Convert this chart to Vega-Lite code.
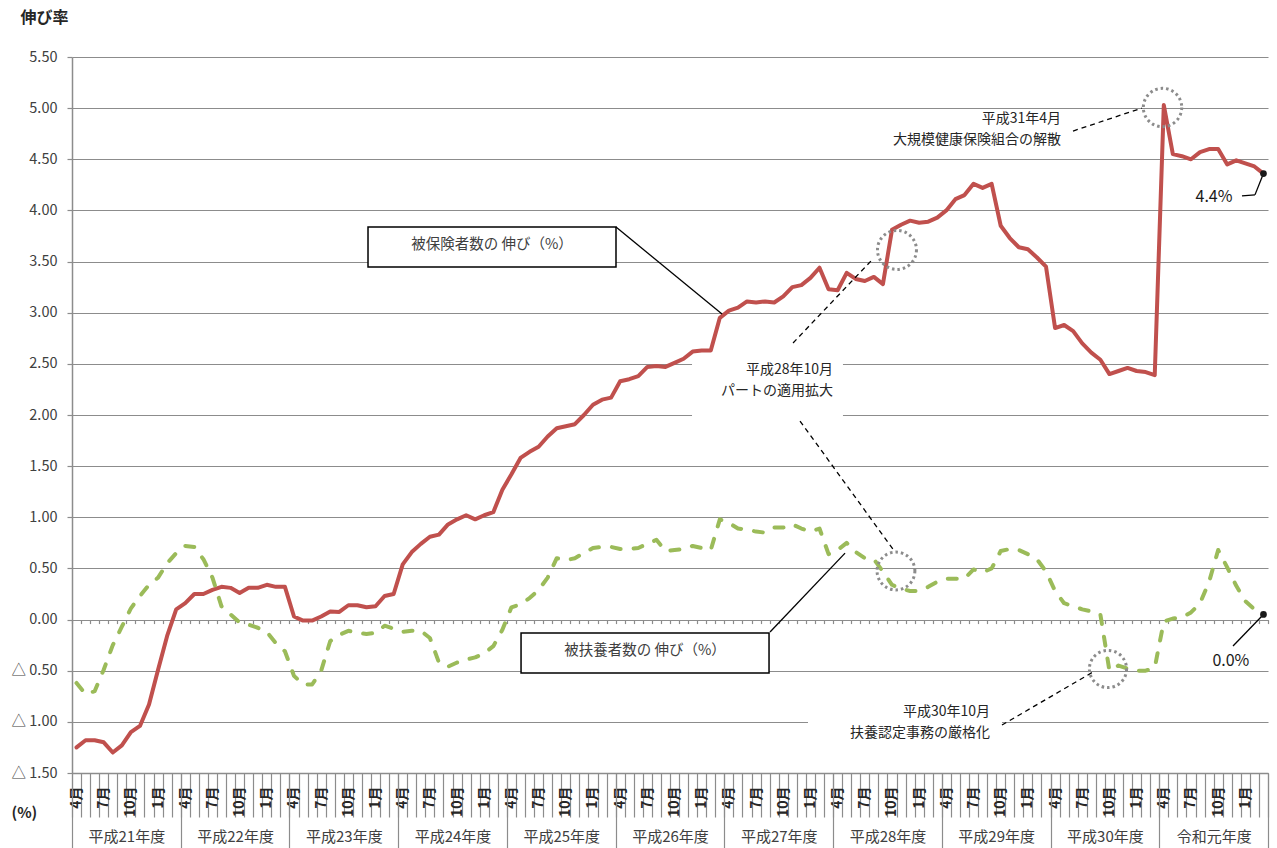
{
 "$schema": "https://vega.github.io/schema/vega-lite/v6.json",
 "width": 1196,
 "height": 716,
 "autosize": {"type": "none"},
 "padding": {"left": 72, "top": 57, "right": 9, "bottom": 75},
 "background": "white",
 "config": {
  "view": {"stroke": null},
  "font": "Noto Sans CJK JP",
  "axis": {"domainColor": "#8c8c8c", "tickColor": "#8c8c8c", "gridColor": "#8c8c8c"}
 },
 "datasets": {
  "series": [
   {"m":0,"hihokensha":-1.25,"hifuyosha":-0.62},{"m":1,"hihokensha":-1.18,"hifuyosha":-0.73},{"m":2,"hihokensha":-1.18,"hifuyosha":-0.70},{"m":3,"hihokensha":-1.20,"hifuyosha":-0.49},{"m":4,"hihokensha":-1.30,"hifuyosha":-0.25},{"m":5,"hihokensha":-1.23,"hifuyosha":-0.07},{"m":6,"hihokensha":-1.10,"hifuyosha":0.11},{"m":7,"hihokensha":-1.04,"hifuyosha":0.23},{"m":8,"hihokensha":-0.83,"hifuyosha":0.34},{"m":9,"hihokensha":-0.49,"hifuyosha":0.41},{"m":10,"hihokensha":-0.16,"hifuyosha":0.55},{"m":11,"hihokensha":0.10,"hifuyosha":0.65},
   {"m":12,"hihokensha":0.16,"hifuyosha":0.72},{"m":13,"hihokensha":0.25,"hifuyosha":0.71},{"m":14,"hihokensha":0.25,"hifuyosha":0.59},{"m":15,"hihokensha":0.29,"hifuyosha":0.41},{"m":16,"hihokensha":0.32,"hifuyosha":0.13},{"m":17,"hihokensha":0.31,"hifuyosha":0.05},{"m":18,"hihokensha":0.26,"hifuyosha":-0.03},{"m":19,"hihokensha":0.31,"hifuyosha":-0.05},{"m":20,"hihokensha":0.31,"hifuyosha":-0.08},{"m":21,"hihokensha":0.34,"hifuyosha":-0.12},{"m":22,"hihokensha":0.32,"hifuyosha":-0.23},{"m":23,"hihokensha":0.32,"hifuyosha":-0.31},
   {"m":24,"hihokensha":0.03,"hifuyosha":-0.55},{"m":25,"hihokensha":-0.01,"hifuyosha":-0.635},{"m":26,"hihokensha":-0.01,"hifuyosha":-0.635},{"m":27,"hihokensha":0.03,"hifuyosha":-0.50},{"m":28,"hihokensha":0.08,"hifuyosha":-0.21},{"m":29,"hihokensha":0.075,"hifuyosha":-0.15},{"m":30,"hihokensha":0.14,"hifuyosha":-0.11},{"m":31,"hihokensha":0.14,"hifuyosha":-0.13},{"m":32,"hihokensha":0.12,"hifuyosha":-0.14},{"m":33,"hihokensha":0.13,"hifuyosha":-0.13},{"m":34,"hihokensha":0.23,"hifuyosha":-0.06},{"m":35,"hihokensha":0.25,"hifuyosha":-0.09},
   {"m":36,"hihokensha":0.54,"hifuyosha":-0.12},{"m":37,"hihokensha":0.66,"hifuyosha":-0.11},{"m":38,"hihokensha":0.74,"hifuyosha":-0.11},{"m":39,"hihokensha":0.81,"hifuyosha":-0.18},{"m":40,"hihokensha":0.83,"hifuyosha":-0.42},{"m":41,"hihokensha":0.93,"hifuyosha":-0.46},{"m":42,"hihokensha":0.98,"hifuyosha":-0.42},{"m":43,"hihokensha":1.02,"hifuyosha":-0.39},{"m":44,"hihokensha":0.98,"hifuyosha":-0.37},{"m":45,"hihokensha":1.02,"hifuyosha":-0.33},{"m":46,"hihokensha":1.05,"hifuyosha":-0.26},{"m":47,"hihokensha":1.27,"hifuyosha":-0.10},
   {"m":48,"hihokensha":1.42,"hifuyosha":0.12},{"m":49,"hihokensha":1.58,"hifuyosha":0.15},{"m":50,"hihokensha":1.64,"hifuyosha":0.21},{"m":51,"hihokensha":1.69,"hifuyosha":0.29},{"m":52,"hihokensha":1.79,"hifuyosha":0.41},{"m":53,"hihokensha":1.87,"hifuyosha":0.60},{"m":54,"hihokensha":1.89,"hifuyosha":0.58},{"m":55,"hihokensha":1.91,"hifuyosha":0.60},{"m":56,"hihokensha":2.00,"hifuyosha":0.65},{"m":57,"hihokensha":2.10,"hifuyosha":0.70},{"m":58,"hihokensha":2.15,"hifuyosha":0.71},{"m":59,"hihokensha":2.17,"hifuyosha":0.71},
   {"m":60,"hihokensha":2.33,"hifuyosha":0.69},{"m":61,"hihokensha":2.35,"hifuyosha":0.69},{"m":62,"hihokensha":2.38,"hifuyosha":0.70},{"m":63,"hihokensha":2.47,"hifuyosha":0.74},{"m":64,"hihokensha":2.48,"hifuyosha":0.78},{"m":65,"hihokensha":2.47,"hifuyosha":0.67},{"m":66,"hihokensha":2.51,"hifuyosha":0.68},{"m":67,"hihokensha":2.55,"hifuyosha":0.69},{"m":68,"hihokensha":2.62,"hifuyosha":0.72},{"m":69,"hihokensha":2.63,"hifuyosha":0.70},{"m":70,"hihokensha":2.63,"hifuyosha":0.68},{"m":71,"hihokensha":2.95,"hifuyosha":0.98},
   {"m":72,"hihokensha":3.02,"hifuyosha":0.945},{"m":73,"hihokensha":3.05,"hifuyosha":0.89},{"m":74,"hihokensha":3.11,"hifuyosha":0.88},{"m":75,"hihokensha":3.10,"hifuyosha":0.86},{"m":76,"hihokensha":3.11,"hifuyosha":0.85},{"m":77,"hihokensha":3.10,"hifuyosha":0.90},{"m":78,"hihokensha":3.16,"hifuyosha":0.90},{"m":79,"hihokensha":3.25,"hifuyosha":0.93},{"m":80,"hihokensha":3.27,"hifuyosha":0.89},{"m":81,"hihokensha":3.34,"hifuyosha":0.86},{"m":82,"hihokensha":3.44,"hifuyosha":0.89},{"m":83,"hihokensha":3.23,"hifuyosha":0.64},
   {"m":84,"hihokensha":3.22,"hifuyosha":0.68},{"m":85,"hihokensha":3.39,"hifuyosha":0.75},{"m":86,"hihokensha":3.33,"hifuyosha":0.66},{"m":87,"hihokensha":3.31,"hifuyosha":0.60},{"m":88,"hihokensha":3.35,"hifuyosha":0.59},{"m":89,"hihokensha":3.28,"hifuyosha":0.47},{"m":90,"hihokensha":3.81,"hifuyosha":0.34},{"m":91,"hihokensha":3.86,"hifuyosha":0.30},{"m":92,"hihokensha":3.90,"hifuyosha":0.28},{"m":93,"hihokensha":3.88,"hifuyosha":0.28},{"m":94,"hihokensha":3.89,"hifuyosha":0.32},{"m":95,"hihokensha":3.93,"hifuyosha":0.37},
   {"m":96,"hihokensha":4.00,"hifuyosha":0.40},{"m":97,"hihokensha":4.11,"hifuyosha":0.40},{"m":98,"hihokensha":4.15,"hifuyosha":0.40},{"m":99,"hihokensha":4.26,"hifuyosha":0.49},{"m":100,"hihokensha":4.22,"hifuyosha":0.46},{"m":101,"hihokensha":4.26,"hifuyosha":0.50},{"m":102,"hihokensha":3.85,"hifuyosha":0.67},{"m":103,"hihokensha":3.73,"hifuyosha":0.69},{"m":104,"hihokensha":3.64,"hifuyosha":0.68},{"m":105,"hihokensha":3.62,"hifuyosha":0.64},{"m":106,"hihokensha":3.54,"hifuyosha":0.59},{"m":107,"hihokensha":3.45,"hifuyosha":0.47},
   {"m":108,"hihokensha":2.85,"hifuyosha":0.28},{"m":109,"hihokensha":2.88,"hifuyosha":0.16},{"m":110,"hihokensha":2.82,"hifuyosha":0.13},{"m":111,"hihokensha":2.70,"hifuyosha":0.10},{"m":112,"hihokensha":2.61,"hifuyosha":0.08},{"m":113,"hihokensha":2.54,"hifuyosha":0.05},{"m":114,"hihokensha":2.40,"hifuyosha":-0.50},{"m":115,"hihokensha":2.43,"hifuyosha":-0.45},{"m":116,"hihokensha":2.46,"hifuyosha":-0.48},{"m":117,"hihokensha":2.43,"hifuyosha":-0.50},{"m":118,"hihokensha":2.42,"hifuyosha":-0.50},{"m":119,"hihokensha":2.39,"hifuyosha":-0.47},
   {"m":120,"hihokensha":5.03,"hifuyosha":-0.02},{"m":121,"hihokensha":4.55,"hifuyosha":0.01},{"m":122,"hihokensha":4.53,"hifuyosha":0.02},{"m":123,"hihokensha":4.50,"hifuyosha":0.07},{"m":124,"hihokensha":4.57,"hifuyosha":0.16},{"m":125,"hihokensha":4.60,"hifuyosha":0.37},{"m":126,"hihokensha":4.60,"hifuyosha":0.68},{"m":127,"hihokensha":4.45,"hifuyosha":0.51},{"m":128,"hihokensha":4.49,"hifuyosha":0.33},{"m":129,"hihokensha":4.46,"hifuyosha":0.18},{"m":130,"hihokensha":4.43,"hifuyosha":0.10},{"m":131,"hihokensha":4.36,"hifuyosha":0.05}
  ],
  "boxes": [
   {"x":67.93,"x2":84.59,"y":2.704,"y2":1.951},
   {"x":80.73,"x2":102.14,"y":-0.757,"y2":-1.256}
  ],
  "frames": [
   {"x":32.17,"x2":59.54,"y":3.838,"y2":3.447},
   {"x":49.06,"x2":76.43,"y":-0.131,"y2":-0.522}
  ],
  "dashes": [
   {"x":79.08,"y":2.704,"x2":87.79,"y2":3.516},
   {"x":79.85,"y":1.941,"x2":90.33,"y2":0.661},
   {"x":109.98,"y":4.776,"x2":117.59,"y2":5.001},
   {"x":102.14,"y":-1.031,"x2":112.18,"y2":-0.513}
  ],
  "leaders": [
   {"x":59.54,"y":3.838,"x2":71.24,"y2":2.987},
   {"x":76.54,"y":-0.122,"x2":84.82,"y2":0.650},
   {"x":131,"y":4.36,"x2":130.06,"y2":4.152},
   {"x":130.06,"y":4.152,"x2":128.63,"y2":4.142},
   {"x":131,"y":0.05,"x2":127.64,"y2":-0.258}
  ],
  "circles": [
   {"c":"A","x":90.55,"y":3.614},
   {"c":"B","x":119.86,"y":5.006},
   {"c":"C","x":90.44,"y":0.475},
   {"c":"D","x":113.84,"y":-0.483}
  ],
  "ends": [
   {"x":131,"y":4.36},
   {"x":131,"y":0.05}
  ],
  "boxLabels": [
   {"x":45.85,"y":3.662,"t":"被保険者数の 伸び（%）"},
   {"x":62.74,"y":-0.31,"t":"被扶養者数の 伸び（%）"}
  ],
  "notes": [
   {"x":83.49,"y":2.44,"t":"平成28年10月"},
   {"x":83.49,"y":2.234,"t":"パートの適用拡大"},
   {"x":108.65,"y":4.889,"t":"平成31年4月"},
   {"x":108.65,"y":4.684,"t":"大規模健康保険組合の解散"},
   {"x":100.82,"y":-0.903,"t":"平成30年10月"},
   {"x":100.82,"y":-1.111,"t":"扶養認定事務の厳格化"}
  ],
  "endLabels": [
   {"x":125.54,"y":4.131,"t":"4.4%"},
   {"x":127.4,"y":-0.406,"t":"0.0%"}
  ]
 },
 "resolve": {"axis": {"x": "independent", "y": "independent"}},
 "layer": [
  {
   "data": {"name": "boxes"},
   "mark": {"type": "rect", "fill": "white"},
   "encoding": {
    "x": {"field": "x", "type": "quantitative", "scale": {"domain": [-0.5, 131.5], "nice": false, "zero": false},
     "axis": {"orient": "bottom", "values": [5.5,17.5,29.5,41.5,53.5,65.5,77.5,89.5,101.5,113.5,125.5],
      "labelExpr": "['平成21年度','平成22年度','平成23年度','平成24年度','平成25年度','平成26年度','平成27年度','平成28年度','平成29年度','平成30年度','令和元年度'][round((datum.value - 5.5) / 12)]",
      "ticks": false, "tickSize": 0, "domain": false, "grid": false, "labelPadding": 63, "labelBaseline": "middle", "labelAlign": "center", "labelAngle": 0,
      "labelFontSize": 15, "labelColor": "#404040", "labelOverlap": false, "labelFlush": false, "labelBound": false,
      "title": "(%)", "titleX": -61, "titleY": 39.5, "titleAlign": "left", "titleBaseline": "middle", "titleAngle": 0, "titleFontSize": 15, "titleFontWeight": "bold", "titleColor": "#262626"}},
    "x2": {"field": "x2"},
    "y": {"field": "y", "type": "quantitative", "scale": {"domain": [-1.5, 5.5], "nice": false, "zero": false}, "axis": null},
    "y2": {"field": "y2"}
   }
  },
  {
   "data": {"name": "series"},
   "mark": {"type": "line", "color": "#C0504D", "strokeWidth": 4, "strokeJoin": "round", "strokeCap": "round"},
   "encoding": {
    "x": {"field": "m", "type": "quantitative", "scale": {"domain": [-0.5, 131.5], "nice": false, "zero": false},
     "axis": {"orient": "bottom", "values": [-0.5,0.5,1.5,2.5,3.5,4.5,5.5,6.5,7.5,8.5,9.5,10.5,11.5,12.5,13.5,14.5,15.5,16.5,17.5,18.5,19.5,20.5,21.5,22.5,23.5,24.5,25.5,26.5,27.5,28.5,29.5,30.5,31.5,32.5,33.5,34.5,35.5,36.5,37.5,38.5,39.5,40.5,41.5,42.5,43.5,44.5,45.5,46.5,47.5,48.5,49.5,50.5,51.5,52.5,53.5,54.5,55.5,56.5,57.5,58.5,59.5,60.5,61.5,62.5,63.5,64.5,65.5,66.5,67.5,68.5,69.5,70.5,71.5,72.5,73.5,74.5,75.5,76.5,77.5,78.5,79.5,80.5,81.5,82.5,83.5,84.5,85.5,86.5,87.5,88.5,89.5,90.5,91.5,92.5,93.5,94.5,95.5,96.5,97.5,98.5,99.5,100.5,101.5,102.5,103.5,104.5,105.5,106.5,107.5,108.5,109.5,110.5,111.5,112.5,113.5,114.5,115.5,116.5,117.5,118.5,119.5,120.5,121.5,122.5,123.5,124.5,125.5,126.5,127.5,128.5,129.5,130.5,131.5],
      "labels": false, "grid": false, "domain": true, "domainWidth": 1.5, "tickSize": 44, "tickWidth": 1.2, "title": null}},
    "y": {"field": "hihokensha", "type": "quantitative", "scale": {"domain": [-1.5, 5.5], "nice": false, "zero": false},
     "axis": {"orient": "left", "values": [-1.5,-1,-0.5,0,0.5,1,1.5,2,2.5,3,3.5,4,4.5,5,5.5],
      "labelExpr": "datum.value < 0 ? '△ ' + format(-datum.value, '.2f') : format(datum.value, '.2f')",
      "grid": true, "gridWidth": 1.2, "domainWidth": 1.5, "tickSize": 5, "tickWidth": 1.2, "labelPadding": 10, "labelFontSize": 14.5, "labelColor": "#404040",
      "title": "伸び率", "titleAngle": 0, "titleX": -52, "titleY": -40, "titleAlign": "left", "titleBaseline": "middle", "titleFontSize": 16, "titleFontWeight": "bold", "titleColor": "#262626"}}
   }
  },
  {
   "data": {"name": "series"},
   "mark": {"type": "line", "color": "#9BBB59", "strokeWidth": 4, "strokeDash": [9, 13], "strokeCap": "round", "strokeJoin": "round"},
   "encoding": {
    "x": {"field": "m", "type": "quantitative", "scale": {"domain": [-0.5, 131.5], "nice": false, "zero": false},
     "axis": {"orient": "bottom", "values": [0,3,6,9,12,15,18,21,24,27,30,33,36,39,42,45,48,51,54,57,60,63,66,69,72,75,78,81,84,87,90,93,96,99,102,105,108,111,114,117,120,123,126,129],
      "labelExpr": "((datum.value + 3) % 12 + 1) + '月'",
      "ticks": false, "tickSize": 0, "domain": false, "grid": false, "labelAngle": 270, "labelAlign": "right", "labelBaseline": "middle", "labelPadding": 13,
      "labelFontSize": 14, "labelFontWeight": "bold", "labelColor": "#262626", "labelOverlap": false, "labelFlush": false, "labelBound": false, "title": null}},
    "y": {"field": "hifuyosha", "type": "quantitative", "scale": {"domain": [-1.5, 5.5], "nice": false, "zero": false}, "axis": null}
   }
  },
  {
   "data": {"name": "frames"},
   "mark": {"type": "rect", "fill": "white", "stroke": "black", "strokeWidth": 1.5},
   "encoding": {
    "x": {"field": "x", "type": "quantitative", "scale": {"domain": [-0.5, 131.5], "nice": false, "zero": false},
     "axis": {"orient": "bottom", "values": [-0.5,11.5,23.5,35.5,47.5,59.5,71.5,83.5,95.5,107.5,119.5,131.5],
      "labels": false, "domain": false, "grid": false, "tickSize": 75, "tickWidth": 1.2, "title": null}},
    "x2": {"field": "x2"},
    "y": {"field": "y", "type": "quantitative", "scale": {"domain": [-1.5, 5.5], "nice": false, "zero": false}, "axis": null},
    "y2": {"field": "y2"}
   }
  },
  {
   "data": {"name": "dashes"},
   "mark": {"type": "rule", "color": "black", "strokeWidth": 1.3, "strokeDash": [5, 4]},
   "encoding": {
    "x": {"field": "x", "type": "quantitative", "scale": {"domain": [-0.5, 131.5], "nice": false, "zero": false}, "axis": null},
    "x2": {"field": "x2"},
    "y": {"field": "y", "type": "quantitative", "scale": {"domain": [-1.5, 5.5], "nice": false, "zero": false}, "axis": null},
    "y2": {"field": "y2"}
   }
  },
  {
   "data": {"name": "leaders"},
   "mark": {"type": "rule", "color": "black", "strokeWidth": 1.3},
   "encoding": {
    "x": {"field": "x", "type": "quantitative", "scale": {"domain": [-0.5, 131.5], "nice": false, "zero": false},
     "axis": {"orient": "bottom", "offset": -153.43, "values": [-0.5,0.5,1.5,2.5,3.5,4.5,5.5,6.5,7.5,8.5,9.5,10.5,11.5,12.5,13.5,14.5,15.5,16.5,17.5,18.5,19.5,20.5,21.5,22.5,23.5,24.5,25.5,26.5,27.5,28.5,29.5,30.5,31.5,32.5,33.5,34.5,35.5,36.5,37.5,38.5,39.5,40.5,41.5,42.5,43.5,44.5,45.5,46.5,47.5,48.5,49.5,50.5,51.5,52.5,53.5,54.5,55.5,56.5,57.5,58.5,59.5,60.5,61.5,62.5,63.5,64.5,65.5,66.5,67.5,68.5,69.5,70.5,71.5,72.5,73.5,74.5,75.5,76.5,77.5,78.5,79.5,80.5,81.5,82.5,83.5,84.5,85.5,86.5,87.5,88.5,89.5,90.5,91.5,92.5,93.5,94.5,95.5,96.5,97.5,98.5,99.5,100.5,101.5,102.5,103.5,104.5,105.5,106.5,107.5,108.5,109.5,110.5,111.5,112.5,113.5,114.5,115.5,116.5,117.5,118.5,119.5,120.5,121.5,122.5,123.5,124.5,125.5,126.5,127.5,128.5,129.5,130.5,131.5],
      "labels": false, "domain": false, "grid": false, "tickSize": 4, "tickWidth": 1.2, "title": null}},
    "x2": {"field": "x2"},
    "y": {"field": "y", "type": "quantitative", "scale": {"domain": [-1.5, 5.5], "nice": false, "zero": false}, "axis": null},
    "y2": {"field": "y2"}
   }
  },
  {
   "data": {"name": "circles"},
   "mark": {"type": "point", "shape": "circle", "filled": false, "stroke": "#8c8c8c", "strokeWidth": 3, "strokeDash": [2.5, 3], "opacity": 1},
   "encoding": {
    "x": {"field": "x", "type": "quantitative", "scale": {"domain": [-0.5, 131.5], "nice": false, "zero": false}, "axis": null},
    "y": {"field": "y", "type": "quantitative", "scale": {"domain": [-1.5, 5.5], "nice": false, "zero": false}, "axis": null},
    "size": {"field": "c", "type": "ordinal", "scale": {"domain": ["A", "B", "C", "D"], "range": [1520, 1385, 1662, 755]}, "legend": null}
   }
  },
  {
   "data": {"name": "ends"},
   "mark": {"type": "point", "shape": "circle", "filled": true, "color": "#1a1a1a", "size": 45, "opacity": 1},
   "encoding": {
    "x": {"field": "x", "type": "quantitative", "scale": {"domain": [-0.5, 131.5], "nice": false, "zero": false}, "axis": null},
    "y": {"field": "y", "type": "quantitative", "scale": {"domain": [-1.5, 5.5], "nice": false, "zero": false}, "axis": null}
   }
  },
  {
   "data": {"name": "boxLabels"},
   "mark": {"type": "text", "align": "center", "baseline": "middle", "fontSize": 14.5, "color": "#404040"},
   "encoding": {
    "x": {"field": "x", "type": "quantitative", "scale": {"domain": [-0.5, 131.5], "nice": false, "zero": false}, "axis": null},
    "y": {"field": "y", "type": "quantitative", "scale": {"domain": [-1.5, 5.5], "nice": false, "zero": false}, "axis": null},
    "text": {"field": "t"}
   }
  },
  {
   "data": {"name": "notes"},
   "mark": {"type": "text", "align": "right", "baseline": "middle", "fontSize": 14, "color": "#262626"},
   "encoding": {
    "x": {"field": "x", "type": "quantitative", "scale": {"domain": [-0.5, 131.5], "nice": false, "zero": false}, "axis": null},
    "y": {"field": "y", "type": "quantitative", "scale": {"domain": [-1.5, 5.5], "nice": false, "zero": false}, "axis": null},
    "text": {"field": "t"}
   }
  },
  {
   "data": {"name": "endLabels"},
   "mark": {"type": "text", "align": "center", "baseline": "middle", "fontSize": 16, "color": "#1a1a1a"},
   "encoding": {
    "x": {"field": "x", "type": "quantitative", "scale": {"domain": [-0.5, 131.5], "nice": false, "zero": false}, "axis": null},
    "y": {"field": "y", "type": "quantitative", "scale": {"domain": [-1.5, 5.5], "nice": false, "zero": false}, "axis": null},
    "text": {"field": "t"}
   }
  }
 ]
}
